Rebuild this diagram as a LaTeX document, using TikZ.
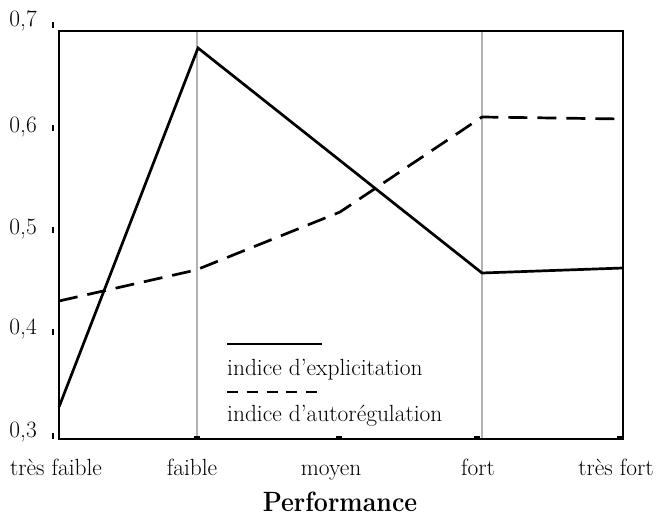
\documentclass[tikz,border=0pt]{standalone}
\usepackage{fontspec}
\usepackage{graphicx}
\begin{document}
\begin{tikzpicture}[x=1bp,y=-1bp,
  lbl/.style={inner sep=0pt, font=\fontsize{23.5}{23.5}\selectfont},
  plotframe/.style={line width=2.5bp, line join=miter},
  gridln/.style={line width=1.3bp, black!30},
  solidser/.style={line width=2.7bp, line join=miter},
  dashser/.style={line width=2.7bp, line join=miter, dash pattern=on 19bp off 10bp},
  legdash/.style={line width=2.7bp, dash pattern=on 11bp off 8.75bp},
  ytk/.style={line width=2bp},
  xtk/.style={fill=black}]
\useasboundingbox (0,0) rectangle (657,516);
% positions
\coordinate (tl) at (59,31);
\coordinate (br) at (623,439);
% grid lines
\draw[gridln] (197,31) coordinate (g1t) -- (197,439) coordinate (g1b);
\draw[gridln] (482,31) coordinate (g2t) -- (482,439) coordinate (g2b);
% frame
\draw[plotframe] (tl) rectangle (br);
% y ticks
\foreach \yy in {25,128.5,230,332,436}{
  \draw[ytk] (53,\yy-3) -- (53,\yy+3);
}
% x ticks
\foreach \xx in {194,336,474,617}{
  \fill[xtk] (\xx,435.5) rectangle (\xx+6,439);
}
% y labels
\node[lbl, anchor=base east] (y7) at (37,27) {0,7};
\node[lbl, anchor=base east] (y6) at (37,133) {0,6};
\node[lbl, anchor=base east] (y5) at (37,235) {0,5};
\node[lbl, anchor=base east] (y4) at (37,334) {0,4};
\node[lbl, anchor=base east] (y3) at (37,437) {0,3};
% x labels
\node[lbl, anchor=base] (x1) at (56,475) {très faible};
\node[lbl, anchor=base] (x2) at (192,475) {faible};
\node[lbl, anchor=base] (x3) at (331,475) {moyen};
\node[lbl, anchor=base] (x4) at (478,475) {fort};
\node[lbl, anchor=base] (x5) at (616,475) {très fort};
\node[inner sep=0pt, anchor=base] (xt) at (340,511) {\scalebox{1}[1.12]{\fontsize{25}{25}\selectfont\bfseries Performance}};
% data
\coordinate (s1) at (59,407);
\coordinate (s2) at (198,48);
\coordinate (s3) at (482,273);
\coordinate (s4) at (623,268);
\coordinate (d1) at (59,301);
\coordinate (d2) at (196,270);
\coordinate (d3) at (340,212);
\coordinate (d4) at (482,117);
\coordinate (d5) at (623,119);
\draw[solidser] (s1) -- (s2) -- (s3) -- (s4);
\draw[dashser] (d1) -- (d2) -- (d3) -- (d4) -- (d5);
% legend
\coordinate (la) at (227,344);
\coordinate (lb) at (322,344);
\coordinate (lc) at (227,392);
\coordinate (ld) at (317,392);
\draw[solidser] (la) -- (lb);
\draw[legdash] (lc) -- (ld);
\node[lbl, anchor=base west] (l1) at (227,375) {indice d’explicitation};
\node[lbl, anchor=base west] (l2) at (227,421) {indice d’autorégulation};
\end{tikzpicture}
\end{document}
